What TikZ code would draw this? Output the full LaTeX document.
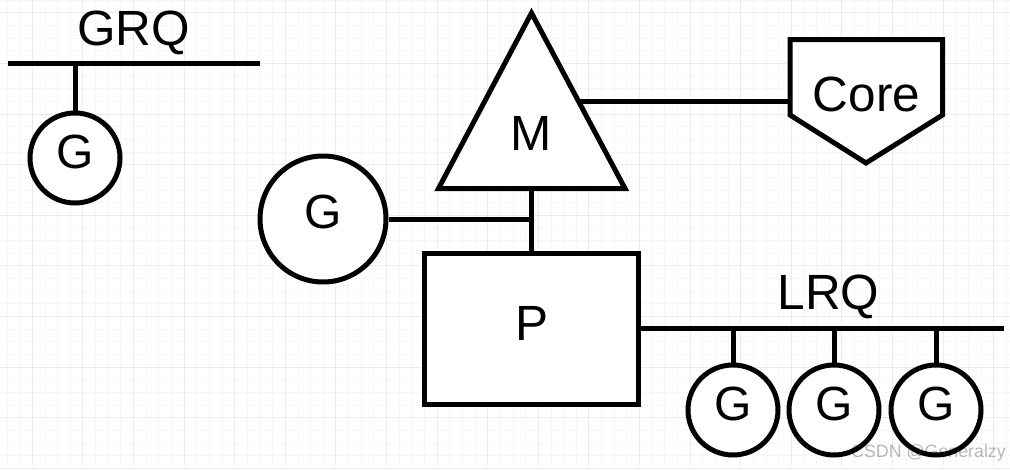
\documentclass[tikz,border=0pt]{standalone}
\usepackage{fontspec}
\setmainfont{Liberation Sans}
\definecolor{gridmajor}{HTML}{EBEBEB}
\definecolor{gridminor}{HTML}{F6F6F6}
\tikzset{
  ink/.style={draw=black,line width=5pt},
  shapefill/.style={ink,fill=white,miter limit=20},
  gcircle/.style={ink,fill=white,circle,minimum size=#1,inner sep=0pt},
  label/.style={inner sep=0pt,font=\fontsize{49.5}{49.5}\selectfont,text=black},
  glabel/.style={inner sep=0pt,font=\fontsize{48}{48}\selectfont,text=black},
  minorgrid/.style={draw=gridminor,line width=0.9pt},
  majorgrid/.style={draw=gridmajor,line width=1pt}
}
\begin{document}
\begin{tikzpicture}[x=1pt,y=-1pt]
\useasboundingbox (0,0) rectangle (1010,471);
\fill[white] (0,0) rectangle (1010,471);
% grid
\foreach \i in {0,...,79} {\draw[minorgrid] ({7+12.65*\i},0) -- ({7+12.65*\i},466);}
\foreach \i in {0,...,36} {\draw[minorgrid] (0,{0.2+12.65*\i}) -- (1010,{0.2+12.65*\i});}
\foreach \i in {0,...,19} {\draw[majorgrid] ({32.3+50.6*\i},0) -- ({32.3+50.6*\i},466);}
\foreach \i in {0,...,9} {\draw[majorgrid] (0,{12.9+50.6*\i}) -- (1010,{12.9+50.6*\i});}
% named anchors
\coordinate (grqL) at (8,63);
\coordinate (grqR) at (260,63);
\coordinate (lrqR) at (1004,328);
\coordinate (mApex) at (531.5,13);
\coordinate (mLeft) at (438.5,188.5);
\coordinate (mRight) at (625,188.5);
\coordinate (mBase) at (531.5,188.5);
\coordinate (mEdge) at (580,101);
\coordinate (cTL) at (790,39.5);
\coordinate (cTR) at (942.5,39.5);
\coordinate (cBR) at (942.5,115);
\coordinate (cTip) at (866,163);
\coordinate (cBL) at (790,115);
\coordinate (cEdge) at (790,101);
% GRQ
\node[label] (grq) at (133.5,32.5) {GRQ};
\draw[ink] (grqL) -- (grqR);
\node[gcircle=90pt] (g0) at (75,158) {};
\node[glabel] (g0t) at ([yshift=6pt]g0.center) {G};
\draw[ink] (g0.north) -- (g0.north |- grqL);
% M and Core
\draw[ink] (mEdge) -- (cEdge);
\draw[ink] (mBase) -- (mBase |- 0,253);
\draw[shapefill] (mApex) -- (mRight) -- (mLeft) -- cycle;
\node[label] (m) at (531.5,133) {M};
\draw[shapefill] (cTL) -- (cTR) -- (cBR) -- (cTip) -- (cBL) -- cycle;
\node[label] (core) at (866.5,94.5) {Core};
% G running
\node[gcircle=126pt] (g1) at (323,219) {};
\node[glabel] (g1t) at ([yshift=7pt]g1.center) {G};
\coordinate (gJoin) at (mBase |- g1.east);
\draw[ink] (g1.east) -- (gJoin);
% P
\node[ink,fill=white,rectangle,minimum width=214pt,minimum height=151pt,inner sep=0pt] (p) at (531,328.5) {};
\node[label] (plabel) at (532.5,323) {P};
% LRQ
\node[label] (lrq) at (828.5,296.5) {LRQ};
\draw[ink] (p.east |- 0,328) -- (lrqR);
\node[gcircle=90pt] (g2) at (733,410) {};
\node[gcircle=90pt] (g3) at (834,410) {};
\node[gcircle=90pt] (g4) at (936,410) {};
\foreach \g in {g2,g3,g4} {
  \draw[ink] (\g.north) -- (\g.north |- lrqR);
  \node[glabel] (\g t) at ([yshift=6pt]\g.center) {G};
}
% watermark
\node[inner sep=0pt,font=\fontsize{17.8}{17.8}\selectfont,text=black,opacity=0.28,anchor=east] (wm) at (1006,453) {CSDN @Generalzy};
\end{tikzpicture}
\end{document}
